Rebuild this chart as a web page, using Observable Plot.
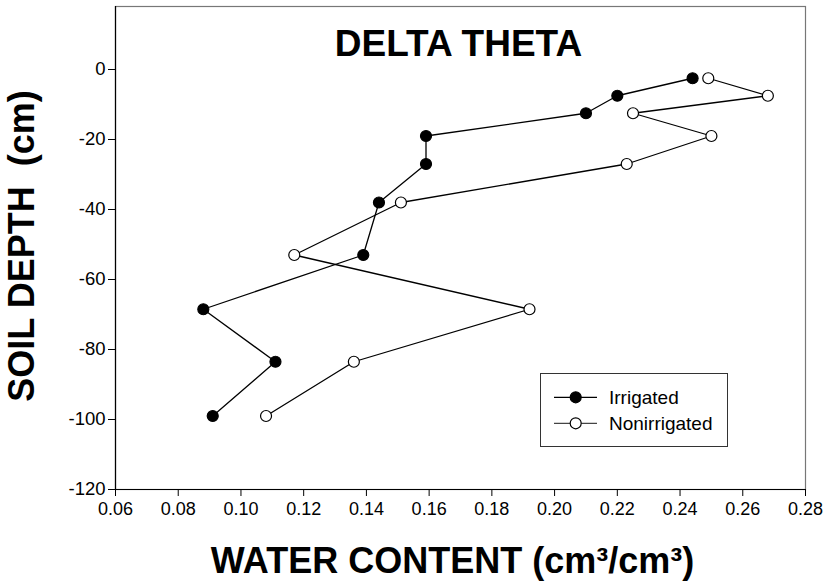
<!DOCTYPE html>
<html>
<head>
<meta charset="utf-8">
<script src="https://cdn.jsdelivr.net/npm/d3@7"></script>
<script src="https://cdn.jsdelivr.net/npm/@observablehq/plot@0.6"></script>
<style>
  html, body { margin: 0; padding: 0; background: white; }
  #wrap { position: relative; width: 828px; height: 585px; font-family: "Liberation Sans", Arial, sans-serif; }
  #legend { position: absolute; left: 540px; top: 373px; }
</style>
</head>
<body>
<div id="wrap"></div>
<script>
// ---- data ----
const depths = [-2.5, -7.5, -12.5, -19, -27, -38, -53, -68.5, -83.5, -99];
const irrigated = [0.244, 0.220, 0.210, 0.159, 0.159, 0.144, 0.139, 0.088, 0.111, 0.091];
const nonirrigated = [0.249, 0.268, 0.225, 0.250, 0.223, 0.151, 0.117, 0.192, 0.136, 0.108];
const seriesNames = ["Irrigated", "Nonirrigated"];
const xDomain = [0.06, 0.28];
const yDomain = [-120, 18];
const xTicks = [0.06, 0.08, 0.10, 0.12, 0.14, 0.16, 0.18, 0.20, 0.22, 0.24, 0.26, 0.28];
const yTicks = [-120, -100, -80, -60, -40, -20, 0];
const title = "DELTA THETA";
const xLabel = "WATER CONTENT (cm\u00B3/cm\u00B3)";
const yLabel = "SOIL DEPTH\u00A0\u00A0(cm)";

const irr = depths.map((d, i) => ({depth: d, wc: irrigated[i]}));
const non = depths.map((d, i) => ({depth: d, wc: nonirrigated[i]}));

const font = "'Liberation Sans', Arial, sans-serif";

const chart = Plot.plot({
  width: 828,
  height: 585,
  marginLeft: 115,
  marginRight: 23,
  marginTop: 6,
  marginBottom: 96,
  style: {fontFamily: font, fontSize: "18px", background: "white", color: "black"},
  x: {domain: xDomain, ticks: xTicks, tickFormat: d => d.toFixed(2)},
  y: {domain: yDomain, ticks: yTicks, tickFormat: d => String(d)},
  marks: [
    Plot.frame({stroke: "#777", strokeWidth: 1.2}),
    Plot.ruleY([yDomain[0]], {stroke: "black", strokeWidth: 1.2}),
    Plot.ruleX([xDomain[0]], {stroke: "black", strokeWidth: 1.2}),
    Plot.axisX({ticks: xTicks, tickFormat: d => d.toFixed(2), tickSize: 7, tickPadding: 6, label: null, fontSize: 18, stroke: "black"}),
    Plot.axisY({ticks: yTicks, tickFormat: d => String(d), tickSize: 7, tickPadding: 3, label: null, fontSize: 18.5, stroke: "black"}),
    Plot.line(non, {x: "wc", y: "depth", stroke: "black", strokeWidth: 1.3}),
    Plot.line(irr, {x: "wc", y: "depth", stroke: "black", strokeWidth: 1.3}),
    Plot.dot(non, {x: "wc", y: "depth", r: 5.5, fill: "white", stroke: "black", strokeWidth: 1.2}),
    Plot.dot(irr, {x: "wc", y: "depth", r: 5.5, fill: "black", stroke: "black", strokeWidth: 1.2}),
    Plot.text([title], {frameAnchor: "top", textAnchor: "middle", lineAnchor: "bottom", dy: 49, dx: -2, fontSize: 37, fontWeight: "bold", fill: "black"}),
    Plot.text([xLabel], {frameAnchor: "bottom", textAnchor: "middle", lineAnchor: "bottom", dy: 83, dx: -8, fontSize: 36, fontWeight: "bold", fill: "black"}),
    Plot.text([yLabel], {frameAnchor: "left", textAnchor: "middle", lineAnchor: "bottom", rotate: -90, dx: -82, dy: -2, fontSize: 36, fontWeight: "bold", fill: "black"})
  ]
});

const wrap = document.getElementById("wrap");
wrap.appendChild(chart);

// legend (HTML overlay)
const legend = document.createElement("div");
legend.id = "legend";
legend.innerHTML = `
<svg width="188" height="74" xmlns="http://www.w3.org/2000/svg" style="font-family:${font};">
  <rect x="0.5" y="0.5" width="187" height="73" fill="white" stroke="#333" stroke-width="1"/>
  <line x1="14" x2="57" y1="24.3" y2="24.3" stroke="black" stroke-width="1.3"/>
  <circle cx="35.7" cy="24.3" r="5.5" fill="black" stroke="black" stroke-width="1.2"/>
  <text x="69" y="24.3" dy="0.35em" font-size="19" fill="black">${seriesNames[0]}</text>
  <line x1="14" x2="57" y1="50.3" y2="50.3" stroke="#444" stroke-width="1.3"/>
  <circle cx="35.7" cy="50.3" r="5.5" fill="white" stroke="black" stroke-width="1.2"/>
  <text x="69" y="50.3" dy="0.35em" font-size="19" fill="black">${seriesNames[1]}</text>
</svg>`;
wrap.appendChild(legend);
</script>
</body>
</html>
